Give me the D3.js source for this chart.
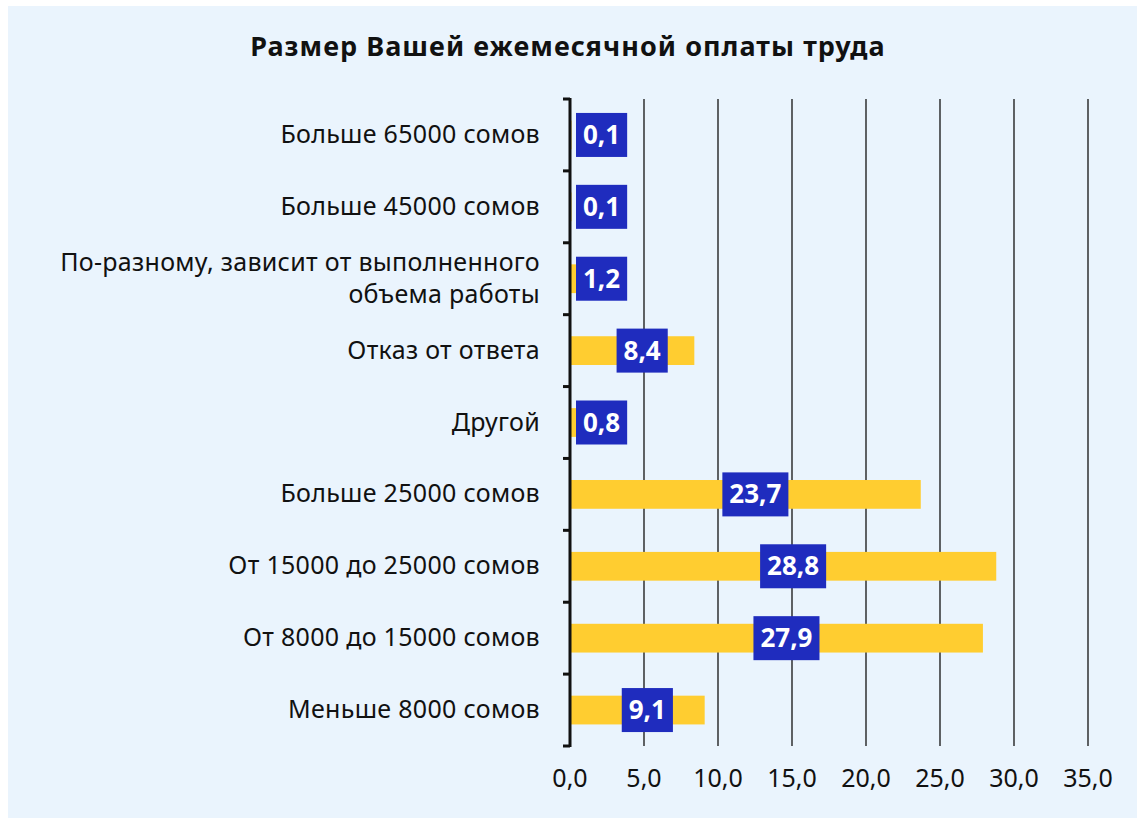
<!DOCTYPE html>
<html>
<head>
<meta charset="utf-8">
<script src="https://cdn.jsdelivr.net/npm/d3@7"></script>
<style>
  body { margin: 0; background: #fff; }
  text { font-family: "Noto Sans", "Open Sans", sans-serif; }
</style>
</head>
<body>
<svg id="chart"></svg>
<script>
const categories = [
    ["Больше 65000 сомов"],
    ["Больше 45000 сомов"],
    ["По-разному, зависит от выполненного", "объема работы"],
    ["Отказ от ответа"],
    ["Другой"],
    ["Больше 25000 сомов"],
    ["От 15000 до 25000 сомов"],
    ["От 8000 до 15000 сомов"],
    ["Меньше 8000 сомов"]
];
const values = [0.1, 0.1, 1.2, 8.4, 0.8, 23.7, 28.8, 27.9, 9.1];
const ticks = [0, 5, 10, 15, 20, 25, 30, 35];
const title = "Размер Вашей ежемесячной оплаты труда";

const width = 1137, height = 818;
const margin = {left: 570, right: 49, top: 99, bottom: 72};

const fmt = v => d3.format(".1f")(v).replace(".", ",");

const svg = d3.select("#chart")
    .attr("width", width)
    .attr("height", height);

svg.append("rect")
    .attr("x", 8).attr("y", 6)
    .attr("width", width - 8).attr("height", height - 6)
    .attr("fill", "#eaf4fd");

svg.append("text")
    .attr("x", 568).attr("y", 56)
    .attr("text-anchor", "middle")
    .attr("font-size", 27)
    .attr("letter-spacing", 1.05)
    .attr("font-weight", "bold")
    .attr("fill", "#111")
    .text(title);

const x = d3.scaleLinear()
    .domain([0, 35])
    .range([margin.left, width - margin.right]);

const y = d3.scaleBand()
    .domain(d3.range(values.length))
    .range([margin.top, height - margin.bottom])
    .paddingInner(0.6)
    .paddingOuter(0.3);

const step = y.step();
const top0 = margin.top, bot0 = height - margin.bottom;

// gridlines
svg.append("g")
    .selectAll("line")
    .data(ticks.slice(1))
    .join("line")
    .attr("x1", d => x(d)).attr("x2", d => x(d))
    .attr("y1", top0).attr("y2", bot0)
    .attr("stroke", "#111")
    .attr("stroke-width", 1.3);

// x tick labels
svg.append("g")
    .selectAll("text")
    .data(ticks)
    .join("text")
    .attr("x", d => x(d))
    .attr("y", bot0 + 41)
    .attr("text-anchor", "middle")
    .attr("font-size", 25)
    .attr("fill", "#111")
    .text(fmt);

// bars
svg.append("g")
    .selectAll("rect")
    .data(values)
    .join("rect")
    .attr("x", x(0))
    .attr("y", (d, i) => y(i))
    .attr("width", d => x(d) - x(0))
    .attr("height", y.bandwidth())
    .attr("fill", "#ffcd30");

// y axis line and ticks
svg.append("line")
    .attr("x1", x(0)).attr("x2", x(0))
    .attr("y1", top0 - 1).attr("y2", bot0 + 1)
    .attr("stroke", "#111")
    .attr("stroke-width", 3);

svg.append("g")
    .selectAll("line")
    .data(d3.range(values.length + 1))
    .join("line")
    .attr("x1", x(0) - 7).attr("x2", x(0))
    .attr("y1", i => top0 + i * step)
    .attr("y2", i => top0 + i * step)
    .attr("stroke", "#111")
    .attr("stroke-width", 3);

// category labels
const cat = svg.append("g")
    .selectAll("text")
    .data(categories)
    .join("text")
    .attr("text-anchor", "end")
    .attr("font-size", 25)
    .attr("letter-spacing", 0.3)
    .attr("fill", "#111")
    .attr("transform", (d, i) => `translate(540,${y(i) + y.bandwidth() / 2})`);

cat.selectAll("tspan")
    .data(d => d.map((t, j) => ({t, j, n: d.length})))
    .join("tspan")
    .attr("x", 0)
    .attr("y", d => (d.j - (d.n - 1) / 2) * 32 + 8)
    .text(d => d.t);

// value labels
const lab = svg.append("g")
    .selectAll("g")
    .data(values)
    .join("g");

lab.append("text")
    .attr("text-anchor", "middle")
    .attr("font-size", 26)
    .attr("font-weight", "bold")
    .attr("fill", "#fff")
    .text(fmt);

lab.each(function (d, i) {
    const g = d3.select(this);
    const t = g.select("text");
    const w = t.node().getComputedTextLength() + 14;
    let cx = x(d / 2) + 10;
    if (cx - w / 2 < x(0) + 6) cx = x(0) + 6 + w / 2;
    const cy = y(i) + y.bandwidth() / 2;
    g.insert("rect", "text")
        .attr("x", cx - w / 2)
        .attr("y", cy - 22)
        .attr("width", w)
        .attr("height", 44)
        .attr("fill", "#1f2cbe");
    t.attr("x", cx).attr("y", cy + 9);
});
</script>
</body>
</html>
